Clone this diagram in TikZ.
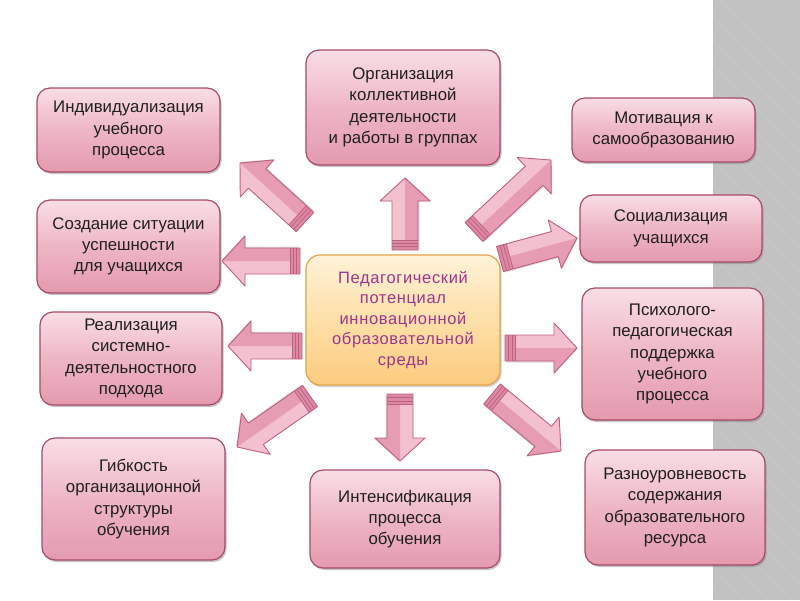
\documentclass[tikz,border=0pt]{standalone}
\usepackage{fontspec}
\setmainfont{Liberation Sans}
\newfontfamily\ctrfont[LetterSpace=4]{Liberation Sans}
\usetikzlibrary{calc,shadows}
\definecolor{pinktop}{HTML}{F9DEE5}
\definecolor{pinkmid}{HTML}{EEB6C5}
\definecolor{pinkbot}{HTML}{E49AAF}
\definecolor{pinkborder}{HTML}{A84A6A}
\definecolor{ctrtop}{HTML}{FFF2D8}
\definecolor{ctrmid}{HTML}{FEE0A8}
\definecolor{ctrbot}{HTML}{FCCB80}
\definecolor{ctrborder}{HTML}{E2A448}
\definecolor{ctrtext}{HTML}{A0358E}
\definecolor{arrlight}{HTML}{F3C0CE}
\definecolor{arrdark}{HTML}{E69CB2}
\definecolor{arrband}{HTML}{DC8AA4}
\definecolor{arrborder}{HTML}{C0607F}
\definecolor{stripgray}{HTML}{C2C2C2}
\tikzset{
  box/.style={draw=pinkborder, line width=1.2pt, rounded corners=13pt,
    top color=pinktop, bottom color=pinkbot, middle color=pinkmid,
    align=center, text=black!88, inner sep=0pt,
    font=\fontsize{16.8}{21.3}\selectfont,
    drop shadow={shadow xshift=1.5pt, shadow yshift=-2pt, opacity=0.45}},
  ctrbox/.style={draw=ctrborder, line width=1.2pt, rounded corners=14pt,
    top color=ctrtop, bottom color=ctrbot, middle color=ctrmid,
    align=center, text=ctrtext, inner sep=0pt,
    font=\ctrfont\fontsize{16.5}{20.5}\selectfont,
    drop shadow={shadow xshift=1.5pt, shadow yshift=-2pt, opacity=0.35}},
  arrline/.style={draw=arrborder, line width=0.9pt, line join=round}
}
\newcommand\blockarrow[2]{%
  \path let \p1=(#1), \p2=(#2) in \pgfextra{%
    \pgfmathsetmacro\bang{atan2(\y2-\y1,\x2-\x1)}%
    \pgfmathsetmacro\blen{veclen(\x2-\x1,\y2-\y1)}%
    \global\let\bang\bang \global\let\blen\blen};
  \pgfmathsetmacro\bh{\blen-23}%
  \begin{scope}[shift={(#1)}, rotate=\bang]
    \fill[black, opacity=0.12] (1.5pt,11.5pt) -- (\bh pt,11.5pt) -- (\bh pt,23.5pt) -- (\blen pt,-1.5pt) -- (\bh pt,-26.5pt) -- (\bh pt,-14.5pt) -- (1.5pt,-14.5pt) -- cycle;
    \fill[arrlight] (0pt,13pt) -- (\bh pt,13pt) -- (\bh pt,25pt) -- (\blen pt,0pt) -- (\bh pt,-25pt) -- (\bh pt,-13pt) -- (0pt,-13pt) -- cycle;
    \fill[arrdark] (0pt,0pt) -- (\blen pt,0pt) -- (\bh pt,-25pt) -- (\bh pt,-13pt) -- (0pt,-13pt) -- cycle;
    \fill[arrband] (0pt,-13pt) rectangle (10pt,13pt);
    \draw[arrborder, line width=0.8pt] (3.5pt,-13pt) -- (3.5pt,13pt) (7pt,-13pt) -- (7pt,13pt) (10pt,-13pt) -- (10pt,13pt);
    \draw[arrline] (0pt,13pt) -- (\bh pt,13pt) -- (\bh pt,25pt) -- (\blen pt,0pt) -- (\bh pt,-25pt) -- (\bh pt,-13pt) -- (0pt,-13pt) -- cycle;
  \end{scope}}
\begin{document}
\begin{tikzpicture}[x=1pt,y=-1pt]
\useasboundingbox (0,0) rectangle (800,600);
\fill[white] (0,0) rectangle (800,600);
% gray patterned strip
\fill[stripgray] (713,0) rectangle (800,600);
\begin{scope}
  \clip (713,0) rectangle (800,600);
  \foreach \k in {100,124,...,1420} {
    \draw[white, opacity=0.10, line width=0.7pt] (\k,0) -- ++(-620,620);
    \draw[white, opacity=0.10, line width=0.7pt] (\k-700,0) -- ++(620,620);
  }
\end{scope}
% nodes
\node[ctrbox, minimum width=194pt, minimum height=130pt] (c) at (403,320)
  {Педагогический\\потенциал\\инновационной\\образовательной\\среды};
\node[box, minimum width=194pt, minimum height=115pt] (top) at (403,107.5)
  {Организация\\коллективной\\деятельности\\и работы в группах};
\node[box, minimum width=183pt, minimum height=84pt] (l1) at (128.5,130)
  {Индивидуализация\\учебного\\процесса};
\node[box, minimum width=183pt, minimum height=93pt] (l2) at (128.5,246.5)
  {Создание ситуации\\успешности\\для учащихся};
\node[box, minimum width=182pt, minimum height=93pt] (l3) at (131,358.5)
  {Реализация\\системно-\\деятельностного\\подхода};
\node[box, minimum width=183pt, minimum height=122pt] (l4) at (133.5,499)
  {Гибкость\\организационной\\структуры\\обучения};
\node[box, minimum width=190pt, minimum height=98pt] (bot) at (405,519)
  {Интенсификация\\процесса\\обучения};
\node[box, minimum width=183pt, minimum height=64pt] (r1) at (663.5,130)
  {Мотивация к\\самообразованию};
\node[box, minimum width=182pt, minimum height=67pt] (r2) at (671,228.5)
  {Социализация\\учащихся};
\node[box, minimum width=181pt, minimum height=132pt] (r3) at (672.5,354)
  {Психолого-\\педагогическая\\поддержка\\учебного\\процесса};
\node[box, minimum width=180pt, minimum height=115pt] (r4) at (675,507.5)
  {Разноуровневость\\содержания\\образовательного\\ресурса};
% arrow end points
\coordinate (aU1) at (405,250); \coordinate (aU2) at (405,178);
\coordinate (aD1) at (400,394); \coordinate (aD2) at (400,461);
\coordinate (aL1a) at (305,222); \coordinate (aL1b) at (240,163);
\coordinate (aL2a) at (300,261); \coordinate (aL2b) at (222,261);
\coordinate (aL3a) at (302,346); \coordinate (aL3b) at (228,346);
\coordinate (aL4a) at (310,396); \coordinate (aL4b) at (237,447);
\coordinate (aR1a) at (474,232); \coordinate (aR1b) at (551,160);
\coordinate (aR2a) at (500,259); \coordinate (aR2b) at (577,238);
\coordinate (aR3a) at (505,348); \coordinate (aR3b) at (577,348);
\coordinate (aR4a) at (492,394); \coordinate (aR4b) at (561,451);
\blockarrow{aU1}{aU2}
\blockarrow{aD1}{aD2}
\blockarrow{aL1a}{aL1b}
\blockarrow{aL2a}{aL2b}
\blockarrow{aL3a}{aL3b}
\blockarrow{aL4a}{aL4b}
\blockarrow{aR1a}{aR1b}
\blockarrow{aR2a}{aR2b}
\blockarrow{aR3a}{aR3b}
\blockarrow{aR4a}{aR4b}
\end{tikzpicture}
\end{document}
